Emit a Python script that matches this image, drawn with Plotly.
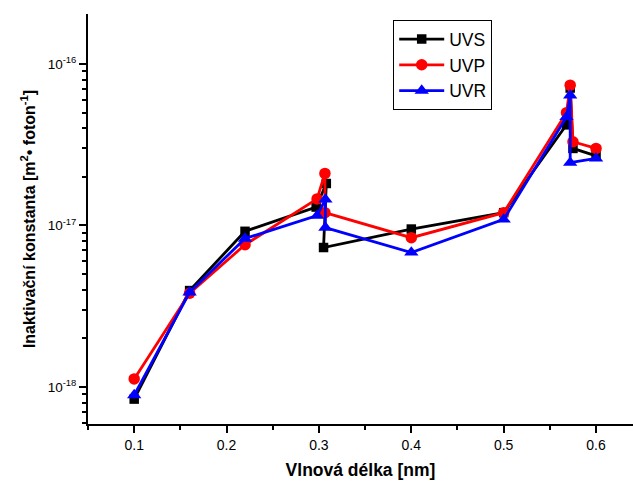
import plotly.graph_objects as go

# Data (wavelength [nm], inactivation constant [m^2 / photon])
uvs_x = [0.1, 0.16, 0.22, 0.297, 0.308, 0.305, 0.4, 0.5, 0.568, 0.572, 0.575, 0.6]
uvs_y = [8.4e-19, 3.95e-18, 9.2e-18, 1.3e-17, 1.82e-17, 7.3e-18, 9.5e-18, 1.2e-17, 4.2e-17, 7.1e-17, 3.0e-17, 2.7e-17]

uvp_x = [0.1, 0.16, 0.22, 0.298, 0.3065, 0.3065, 0.4, 0.5, 0.568, 0.572, 0.575, 0.6]
uvp_y = [1.12e-18, 3.8e-18, 7.6e-18, 1.46e-17, 2.1e-17, 1.2e-17, 8.4e-18, 1.2e-17, 5.0e-17, 7.4e-17, 3.3e-17, 3.0e-17]

uvr_x = [0.1, 0.16, 0.22, 0.298, 0.307, 0.307, 0.4, 0.5, 0.568, 0.572, 0.572, 0.6]
uvr_y = [8.9e-19, 3.85e-18, 8.3e-18, 1.15e-17, 1.45e-17, 9.7e-18, 6.8e-18, 1.09e-17, 4.7e-17, 6.4e-17, 2.45e-17, 2.6e-17]

y_major = [1e-18, 1e-17, 1e-16]
y_major_text = ["10<sup>-18</sup>", "10<sup>-17</sup>", "10<sup>-16</sup>"]
x_major = [0.1, 0.2, 0.3, 0.4, 0.5, 0.6]
x_major_text = ["0.1", "0.2", "0.3", "0.4", "0.5", "0.6"]

FONT = "Arial, Liberation Sans, sans-serif"

fig = go.Figure()
fig.add_trace(go.Scatter(x=uvs_x, y=uvs_y, name="UVS", mode="lines+markers",
                         line=dict(color="black", width=2.8),
                         marker=dict(symbol="square", size=9.5, color="black")))
fig.add_trace(go.Scatter(x=uvp_x, y=uvp_y, name="UVP", mode="lines+markers",
                         line=dict(color="#ff0000", width=2.8),
                         marker=dict(symbol="circle", size=11.5, color="#ff0000")))
fig.add_trace(go.Scatter(x=uvr_x, y=uvr_y, name="UVR", mode="lines+markers",
                         line=dict(color="#0000ff", width=2.8),
                         marker=dict(symbol="triangle-up", size=12.5, color="#0000ff")))

y_minor = [m * 10.0 ** e for e in (-19, -18, -17, -16) for m in range(2, 10)]
y_minor = [v for v in y_minor if 5.9e-19 < v < 2.0e-16]

fig.update_layout(
    width=633, height=482,
    margin=dict(l=88, r=0, t=14, b=58),
    paper_bgcolor="white", plot_bgcolor="white",
    font=dict(family=FONT, color="black"),
    showlegend=True,
    legend=dict(x=0.56, y=0.985, xanchor="left", yanchor="top",
                bordercolor="black", borderwidth=1, bgcolor="white",
                itemwidth=45,
                font=dict(size=17.5, family=FONT), tracegroupgap=0),
    xaxis=dict(range=[0.05, 0.64], tickmode="array", tickvals=x_major,
               ticktext=x_major_text,
               ticks="outside", ticklen=7, tickwidth=2, tickcolor="black",
               minor=dict(tickmode="array", tickvals=[0.05, 0.15, 0.25, 0.35, 0.45, 0.55],
                          ticks="outside", ticklen=4, tickwidth=2, tickcolor="black"),
               showline=True, linecolor="black", linewidth=2, showgrid=False, zeroline=False,
               tickfont=dict(size=14),
               title=dict(text="<b>Vlnová délka [nm]</b>", font=dict(size=17.5), standoff=12)),
    yaxis=dict(type="log", range=[-18.23, -15.69], tickmode="array",
               tickvals=y_major, ticktext=y_major_text,
               ticks="outside", ticklen=7, tickwidth=2, tickcolor="black",
               minor=dict(tickmode="array", tickvals=y_minor,
                          ticks="outside", ticklen=4, tickwidth=2, tickcolor="black"),
               showline=True, linecolor="black", linewidth=2, showgrid=False, zeroline=False,
               tickfont=dict(size=13.5),
               title=dict(text="<b>Inaktivační konstanta [m<sup>2</sup>• foton<sup>-1</sup>]</b>",
                          font=dict(size=16), standoff=8)),
)

fig.write_html("out.html")
